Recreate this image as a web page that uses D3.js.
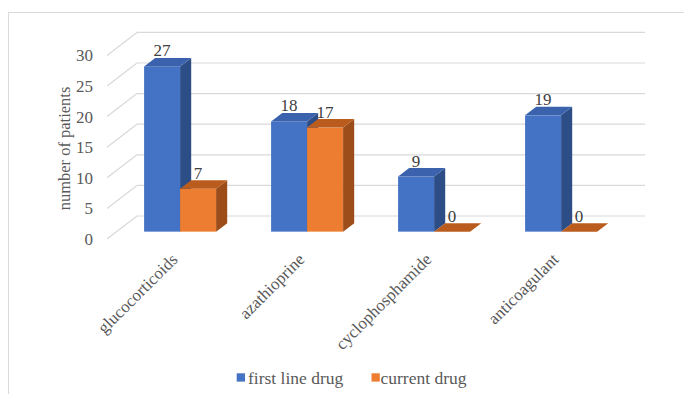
<!DOCTYPE html>
<html>
<head>
<meta charset="utf-8">
<script src="https://cdn.jsdelivr.net/npm/d3@7"></script>
<style>
  @font-face { font-family: "ChartSerif"; src: local("Liberation Serif"), local("LiberationSerif"), local("Times New Roman"); }
  html, body { margin: 0; padding: 0; background: #fff; font-family: "Liberation Serif", "Times New Roman", "ChartSerif"; }
  svg { display: block; }
  svg text { font-family: "Liberation Serif", "Times New Roman", "ChartSerif" !important; }
</style>
</head>
<body>
<script>
const categories = ["glucocorticoids", "azathioprine", "cyclophosphamide", "anticoagulant"];
const seriesNames = ["first line drug", "current drug"];
const firstLineDrug = [27, 18, 9, 19];
const currentDrug = [7, 17, 0, 0];
const yTicks = [0, 5, 10, 15, 20, 25, 30];

const W = 684, H = 394;
const svg = d3.select("body").append("svg").attr("width", W).attr("height", H)
  .attr("font-family", "Liberation Serif");

function txt(sel) {
  return sel.attr("font-family", "Liberation Serif").style("font-family", '"Liberation Serif", "Times New Roman", "ChartSerif"');
}

// chart border
svg.append("rect").attr("x", 8.5).attr("y", 12.5).attr("width", 700).attr("height", 400)
  .attr("fill", "none").attr("stroke", "#d9d9d9").attr("stroke-width", 1);

// 3D geometry
const floorY = 239, x0 = 107, x1 = 615;
const DX = 30, DY = -23;          // full depth vector
const t0 = 0.32, t1 = 0.69;       // bar depth range

const y = d3.scaleLinear().domain([0, 30]).range([0, 183.6]);
const x = d3.scaleBand().domain(categories).range([x0, x1]).padding(0);
const xs = d3.scaleBand().domain(seriesNames).range([27.5, x.bandwidth() - 27.5]).padding(0);

const colors = {
  "first line drug": { front: "#4472C4", top: "#3a62ad", side: "#2d4d87" },
  "current drug":    { front: "#ED7D31", top: "#bb5c1f", side: "#9d4d19" }
};

// gridlines: back wall and left side wall
const g = svg.append("g");
yTicks.forEach(v => {
  const yf = floorY - y(v);
  const yb = yf + DY;
  g.append("line").attr("x1", x0 + DX).attr("x2", x1 + DX).attr("y1", yb).attr("y2", yb)
    .attr("stroke", "#d9d9d9").attr("stroke-width", 1.2);
  g.append("line").attr("x1", x0).attr("y1", yf).attr("x2", x0 + DX).attr("y2", yb)
    .attr("stroke", "#d9d9d9").attr("stroke-width", 1.2);
});

// tick labels
txt(svg.append("g").selectAll("text").data(yTicks).join("text")
  .attr("x", 93).attr("y", d => floorY - y(d)).attr("dy", "0.35em")
  .attr("text-anchor", "end").attr("font-size", 17).attr("fill", "#595959"))
  .text(d => d);

// axis title
txt(svg.append("text")
  .attr("transform", "translate(70,148.5) rotate(-90)")
  .attr("text-anchor", "middle").attr("font-size", 16.5).attr("fill", "#595959"))
  .text("number of patients");

// bars
const data = [];
categories.forEach((c, i) => {
  data.push({ c, s: seriesNames[0], v: firstLineDrug[i] });
  data.push({ c, s: seriesNames[1], v: currentDrug[i] });
});

const dx = (t1 - t0) * DX, dy = (t1 - t0) * DY;
const bars = svg.append("g");
data.forEach(d => {
  const bx = x(d.c) + xs(d.s) + t0 * DX;
  const by = floorY + t0 * DY;
  const w = xs.bandwidth();
  const h = y(d.v);
  const col = colors[d.s];
  const bg = bars.append("g");
  if (h > 0) {
    bg.append("rect").attr("x", bx).attr("y", by - h).attr("width", w).attr("height", h)
      .attr("fill", col.front);
    bg.append("polygon").attr("points", [
      [bx + w, by], [bx + w, by - h], [bx + w + dx, by - h + dy], [bx + w + dx, by + dy]
    ].map(p => p.join(",")).join(" ")).attr("fill", col.side);
  }
  bg.append("polygon").attr("points", [
    [bx, by - h], [bx + w, by - h], [bx + w + dx, by - h + dy], [bx + dx, by - h + dy]
  ].map(p => p.join(",")).join(" ")).attr("fill", col.top);
  d.lx = bx + w / 2; d.ly = by - h - 10;
});

// value labels
txt(svg.append("g").selectAll("text").data(data).join("text")
  .attr("x", d => d.lx).attr("y", d => d.ly)
  .attr("text-anchor", "middle").attr("font-size", 17).attr("fill", "#404040"))
  .text(d => d.v);

// category labels
txt(svg.append("g").selectAll("text").data(categories).join("text")
  .attr("transform", c => `translate(${x(c) + x.bandwidth() / 2 + t0 * DX - 1.5},260.5) rotate(-45)`)
  .attr("text-anchor", "end").attr("font-size", 17).attr("fill", "#595959"))
  .text(c => c);

// legend
const legend = svg.append("g");
const legendPos = [{ sx: 236.7, tx: 248 }, { sx: 371.5, tx: 380.5 }];
seriesNames.forEach((s, i) => {
  legend.append("rect").attr("x", legendPos[i].sx).attr("y", 373.3).attr("width", 8.3).attr("height", 8.3)
    .attr("fill", colors[s].front);
  txt(legend.append("text").attr("x", legendPos[i].tx).attr("y", 384)
    .attr("font-size", 17.5).attr("fill", "#595959")).text(s);
});
</script>
</body>
</html>
